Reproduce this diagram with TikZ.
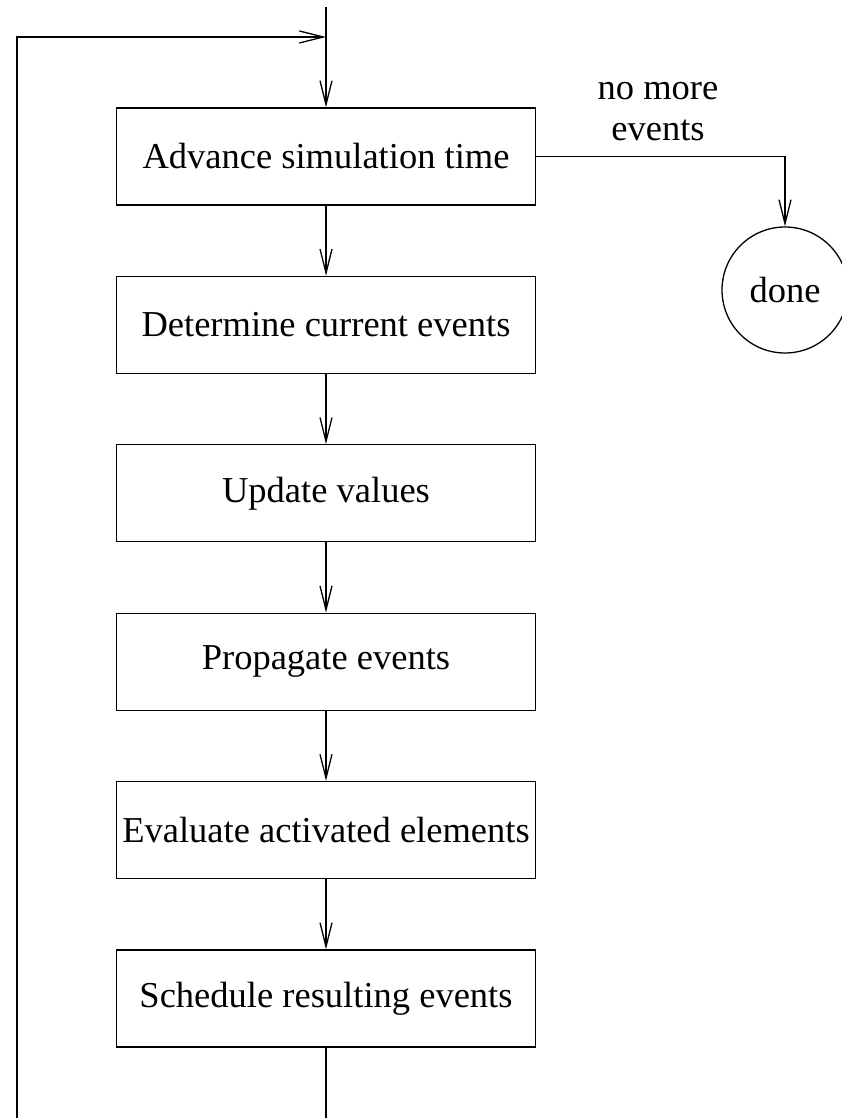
\documentclass[tikz,border=0pt]{standalone}
\usepackage{fontspec}
\setmainfont{Liberation Serif}
\usetikzlibrary{arrows.meta}
\begin{document}
\begin{tikzpicture}[x=1pt,y=-1pt,line width=1.3pt,
  txt/.style={font=\fontsize{36.5}{41}\selectfont},
  stepbox/.style={draw,txt,minimum width=419pt,minimum height=97pt,inner sep=0pt},
  endnode/.style={draw,circle,txt,minimum size=126pt,inner sep=0pt},
  arr/.style={-{Straight Barb[length=24pt,width=12pt,line width=1.3pt]}}]
\useasboundingbox (0,0) rectangle (842,1118);
\clip (0,0) rectangle (842,1118);
% process steps
\node[stepbox] (adv) at (326,156.5) {Advance simulation time};
\node[stepbox] (det) at (326,324.9) {Determine current events};
\node[stepbox] (upd) at (326,493.3) {Update values};
\node[stepbox] (prop) at (326,661.7) {Propagate events};
\node[stepbox] (eval) at (326,830.1) {Evaluate activated elements};
\node[stepbox] (sch) at (326,998.5) {Schedule resulting events};
% termination
\node[endnode] (done) at (785,290) {done};
\node[txt,align=center] (lbl) at (658,112) {no more\\events};
% entry and loop-back
\coordinate (entry) at (326,7);
\coordinate (merge) at (326,37);
\coordinate (loopTL) at (17,37);
\coordinate (loopBL) at (17,1140);
\coordinate (loopBR) at (326,1140);
\draw[arr] (entry) -- (adv.north);
\draw[arr] (sch.south) -- (loopBR) -- (loopBL) -- (loopTL) -- (merge);
% flow between steps
\draw[arr] (adv) -- (det);
\draw[arr] (det) -- (upd);
\draw[arr] (upd) -- (prop);
\draw[arr] (prop) -- (eval);
\draw[arr] (eval) -- (sch);
\draw[arr] (adv.east) -| (done.north);
\end{tikzpicture}
\end{document}
